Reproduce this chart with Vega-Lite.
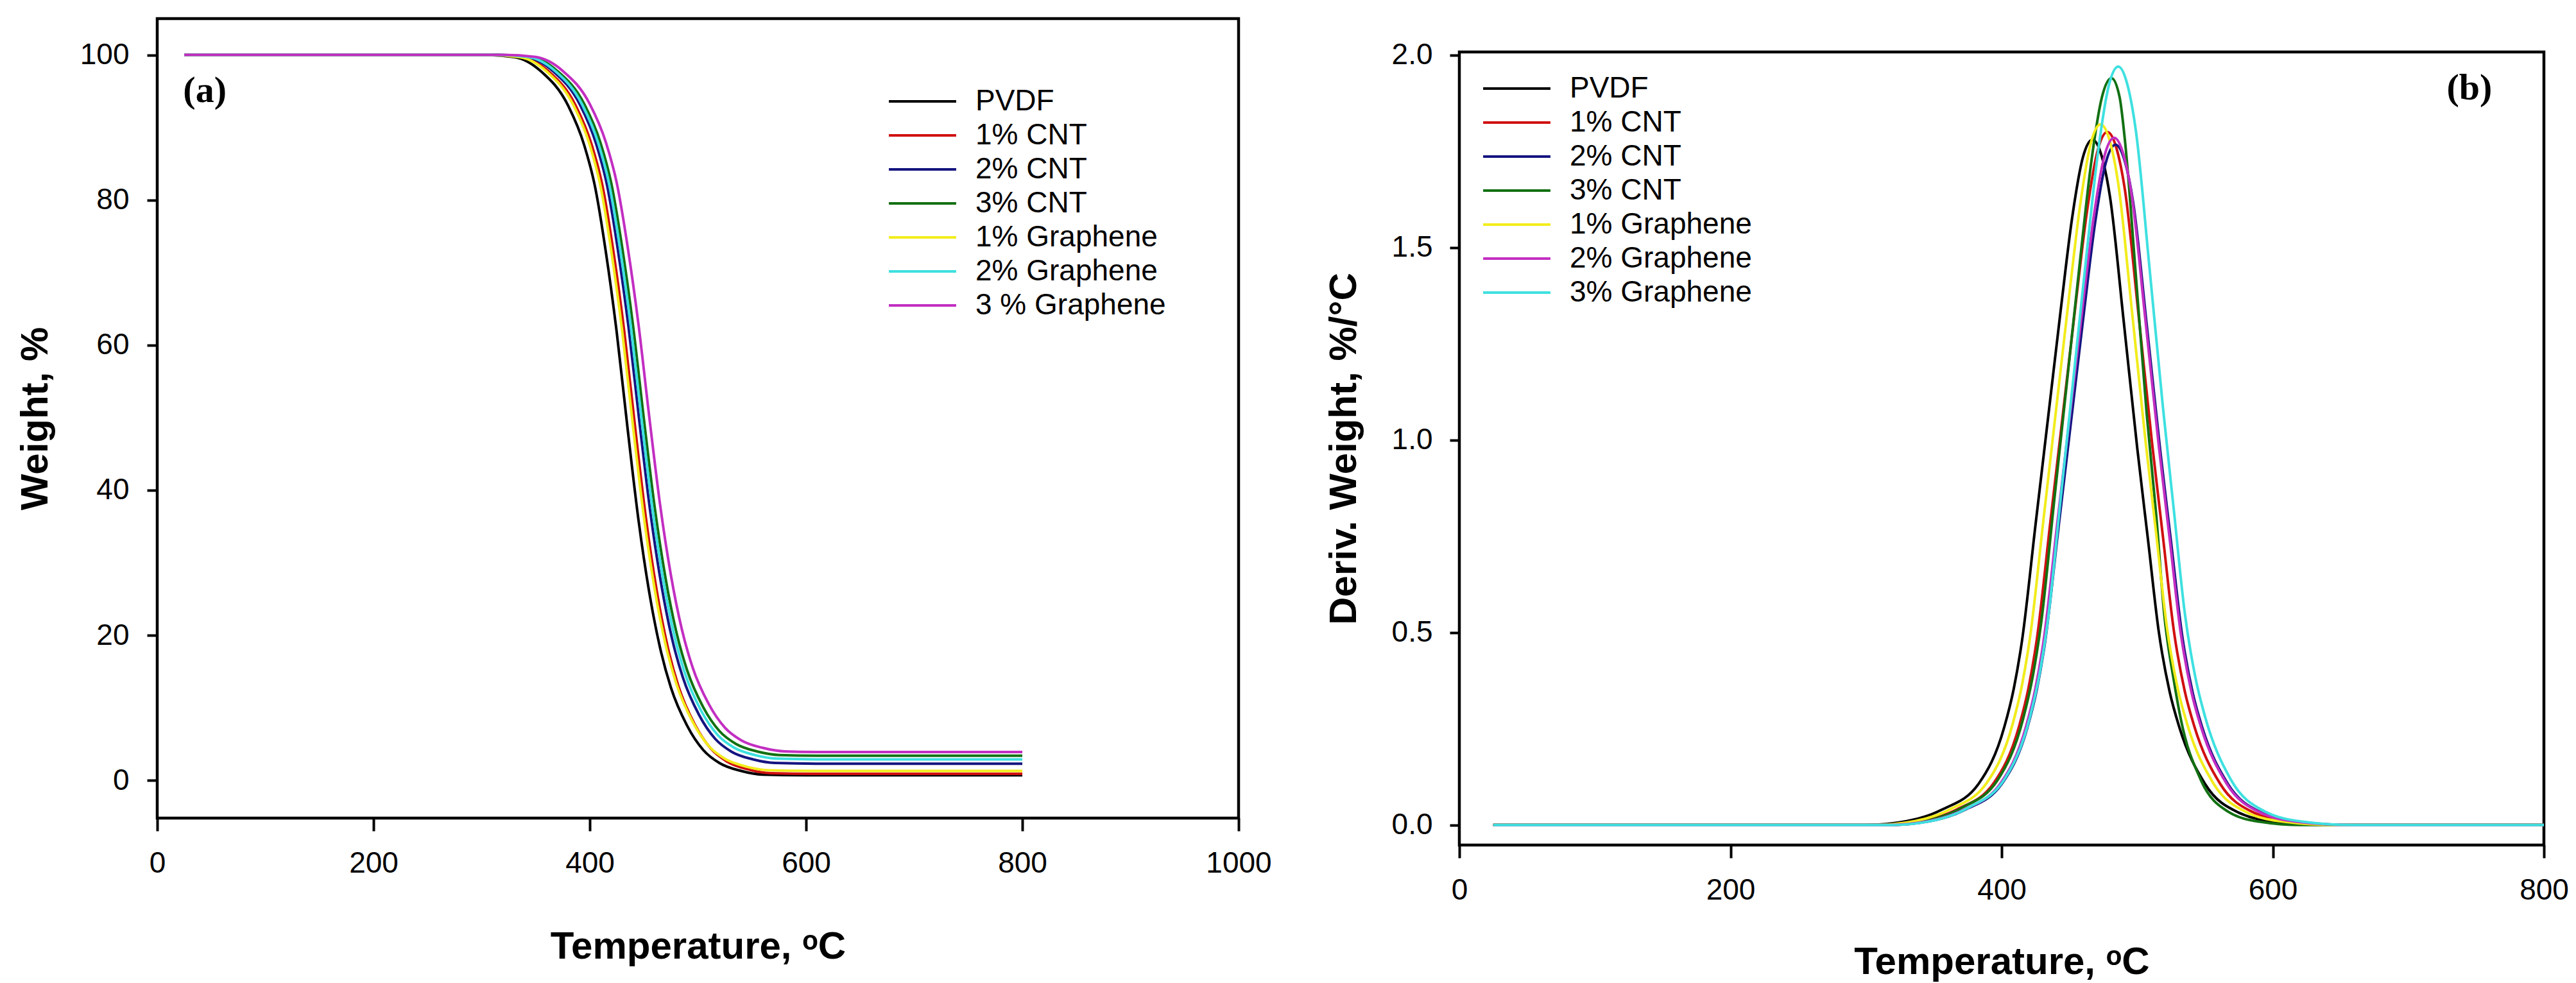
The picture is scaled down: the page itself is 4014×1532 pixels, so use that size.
{
"$schema":"https://vega.github.io/schema/vega-lite/v6.json",
"background":"white",
"autosize":{"type":"pad"},
"padding":{"left":23,"top":26,"right":10,"bottom":10},
"spacing":77,
"datasets":{
"tga":[
{"s":"PVDF","t":25,"w":100},{"s":"PVDF","t":300,"w":100},{"s":"PVDF","t":330,"w":99.7},{"s":"PVDF","t":355,"w":97.72},{"s":"PVDF","t":380,"w":93.0},{"s":"PVDF","t":395,"w":87.49},{"s":"PVDF","t":405,"w":81.73},{"s":"PVDF","t":415,"w":72.69},{"s":"PVDF","t":425,"w":61.67},{"s":"PVDF","t":435,"w":48.46},{"s":"PVDF","t":445,"w":35.95},{"s":"PVDF","t":455,"w":25.92},{"s":"PVDF","t":465,"w":18.28},{"s":"PVDF","t":475,"w":12.81},{"s":"PVDF","t":490,"w":7.55},{"s":"PVDF","t":505,"w":4.18},{"s":"PVDF","t":520,"w":2.39},{"s":"PVDF","t":540,"w":1.3},{"s":"PVDF","t":560,"w":0.8},{"s":"PVDF","t":600,"w":0.7},{"s":"PVDF","t":800,"w":0.7},
{"s":"1% CNT","t":25,"w":100},{"s":"1% CNT","t":307,"w":100},{"s":"1% CNT","t":337,"w":99.7},{"s":"1% CNT","t":362,"w":97.72},{"s":"1% CNT","t":387,"w":93.01},{"s":"1% CNT","t":402,"w":87.51},{"s":"1% CNT","t":412,"w":81.77},{"s":"1% CNT","t":422,"w":72.75},{"s":"1% CNT","t":432,"w":61.75},{"s":"1% CNT","t":442,"w":48.57},{"s":"1% CNT","t":452,"w":36.08},{"s":"1% CNT","t":462,"w":26.07},{"s":"1% CNT","t":472,"w":18.44},{"s":"1% CNT","t":482,"w":12.99},{"s":"1% CNT","t":497,"w":7.74},{"s":"1% CNT","t":512,"w":4.37},{"s":"1% CNT","t":527,"w":2.58},{"s":"1% CNT","t":547,"w":1.49},{"s":"1% CNT","t":567,"w":1.0},{"s":"1% CNT","t":607,"w":0.9},{"s":"1% CNT","t":800,"w":0.9},
{"s":"2% CNT","t":25,"w":100},{"s":"2% CNT","t":311,"w":100},{"s":"2% CNT","t":341,"w":99.71},{"s":"2% CNT","t":366,"w":97.75},{"s":"2% CNT","t":391,"w":93.11},{"s":"2% CNT","t":406,"w":87.69},{"s":"2% CNT","t":416,"w":82.02},{"s":"2% CNT","t":426,"w":73.13},{"s":"2% CNT","t":436,"w":62.29},{"s":"2% CNT","t":446,"w":49.29},{"s":"2% CNT","t":456,"w":36.98},{"s":"2% CNT","t":466,"w":27.12},{"s":"2% CNT","t":476,"w":19.59},{"s":"2% CNT","t":486,"w":14.22},{"s":"2% CNT","t":501,"w":9.04},{"s":"2% CNT","t":516,"w":5.72},{"s":"2% CNT","t":531,"w":3.96},{"s":"2% CNT","t":551,"w":2.89},{"s":"2% CNT","t":571,"w":2.4},{"s":"2% CNT","t":611,"w":2.3},{"s":"2% CNT","t":800,"w":2.3},
{"s":"3% CNT","t":25,"w":100},{"s":"3% CNT","t":315,"w":100},{"s":"3% CNT","t":345,"w":99.71},{"s":"3% CNT","t":370,"w":97.78},{"s":"3% CNT","t":395,"w":93.19},{"s":"3% CNT","t":410,"w":87.83},{"s":"3% CNT","t":420,"w":82.23},{"s":"3% CNT","t":430,"w":73.44},{"s":"3% CNT","t":440,"w":62.71},{"s":"3% CNT","t":450,"w":49.86},{"s":"3% CNT","t":460,"w":37.69},{"s":"3% CNT","t":470,"w":27.94},{"s":"3% CNT","t":480,"w":20.5},{"s":"3% CNT","t":490,"w":15.19},{"s":"3% CNT","t":505,"w":10.07},{"s":"3% CNT","t":520,"w":6.78},{"s":"3% CNT","t":535,"w":5.04},{"s":"3% CNT","t":555,"w":3.98},{"s":"3% CNT","t":575,"w":3.5},{"s":"3% CNT","t":615,"w":3.4},{"s":"3% CNT","t":800,"w":3.4},
{"s":"1% Graphene","t":25,"w":100},{"s":"1% Graphene","t":305,"w":100},{"s":"1% Graphene","t":335,"w":99.7},{"s":"1% Graphene","t":360,"w":97.73},{"s":"1% Graphene","t":385,"w":93.04},{"s":"1% Graphene","t":400,"w":87.56},{"s":"1% Graphene","t":410,"w":81.84},{"s":"1% Graphene","t":420,"w":72.86},{"s":"1% Graphene","t":430,"w":61.9},{"s":"1% Graphene","t":440,"w":48.77},{"s":"1% Graphene","t":450,"w":36.34},{"s":"1% Graphene","t":460,"w":26.37},{"s":"1% Graphene","t":470,"w":18.77},{"s":"1% Graphene","t":480,"w":13.34},{"s":"1% Graphene","t":495,"w":8.11},{"s":"1% Graphene","t":510,"w":4.75},{"s":"1% Graphene","t":525,"w":2.98},{"s":"1% Graphene","t":545,"w":1.89},{"s":"1% Graphene","t":565,"w":1.4},{"s":"1% Graphene","t":605,"w":1.3},{"s":"1% Graphene","t":800,"w":1.3},
{"s":"2% Graphene","t":25,"w":100},{"s":"2% Graphene","t":313,"w":100},{"s":"2% Graphene","t":343,"w":99.71},{"s":"2% Graphene","t":368,"w":97.77},{"s":"2% Graphene","t":393,"w":93.15},{"s":"2% Graphene","t":408,"w":87.77},{"s":"2% Graphene","t":418,"w":82.13},{"s":"2% Graphene","t":428,"w":73.3},{"s":"2% Graphene","t":438,"w":62.52},{"s":"2% Graphene","t":448,"w":49.61},{"s":"2% Graphene","t":458,"w":37.37},{"s":"2% Graphene","t":468,"w":27.56},{"s":"2% Graphene","t":478,"w":20.09},{"s":"2% Graphene","t":488,"w":14.75},{"s":"2% Graphene","t":503,"w":9.6},{"s":"2% Graphene","t":518,"w":6.3},{"s":"2% Graphene","t":533,"w":4.55},{"s":"2% Graphene","t":553,"w":3.48},{"s":"2% Graphene","t":573,"w":3.0},{"s":"2% Graphene","t":613,"w":2.9},{"s":"2% Graphene","t":800,"w":2.9},
{"s":"3 % Graphene","t":25,"w":100},{"s":"3 % Graphene","t":320,"w":100},{"s":"3 % Graphene","t":350,"w":99.71},{"s":"3 % Graphene","t":375,"w":97.79},{"s":"3 % Graphene","t":400,"w":93.22},{"s":"3 % Graphene","t":415,"w":87.89},{"s":"3 % Graphene","t":425,"w":82.32},{"s":"3 % Graphene","t":435,"w":73.57},{"s":"3 % Graphene","t":445,"w":62.91},{"s":"3 % Graphene","t":455,"w":50.12},{"s":"3 % Graphene","t":465,"w":38.02},{"s":"3 % Graphene","t":475,"w":28.31},{"s":"3 % Graphene","t":485,"w":20.91},{"s":"3 % Graphene","t":495,"w":15.62},{"s":"3 % Graphene","t":510,"w":10.53},{"s":"3 % Graphene","t":525,"w":7.26},{"s":"3 % Graphene","t":540,"w":5.53},{"s":"3 % Graphene","t":560,"w":4.48},{"s":"3 % Graphene","t":580,"w":4.0},{"s":"3 % Graphene","t":620,"w":3.9},{"s":"3 % Graphene","t":800,"w":3.9}
],
"dtg":[
{"s":"PVDF","t":25,"d":0},{"s":"PVDF","t":300,"d":0},{"s":"PVDF","t":330,"d":0.01},{"s":"PVDF","t":356,"d":0.04},{"s":"PVDF","t":383,"d":0.107},{"s":"PVDF","t":402,"d":0.255},{"s":"PVDF","t":409,"d":0.355},{"s":"PVDF","t":415,"d":0.478},{"s":"PVDF","t":425,"d":0.78},{"s":"PVDF","t":435,"d":1.08},{"s":"PVDF","t":444,"d":1.35},{"s":"PVDF","t":452,"d":1.577},{"s":"PVDF","t":460,"d":1.735},{"s":"PVDF","t":467,"d":1.78},{"s":"PVDF","t":474,"d":1.735},{"s":"PVDF","t":480,"d":1.63},{"s":"PVDF","t":490,"d":1.31},{"s":"PVDF","t":500,"d":0.98},{"s":"PVDF","t":508,"d":0.74},{"s":"PVDF","t":516,"d":0.5},{"s":"PVDF","t":524,"d":0.345},{"s":"PVDF","t":531,"d":0.255},{"s":"PVDF","t":550,"d":0.107},{"s":"PVDF","t":575,"d":0.032},{"s":"PVDF","t":603,"d":0.008},{"s":"PVDF","t":640,"d":0},{"s":"PVDF","t":800,"d":0},
{"s":"1% CNT","t":25,"d":0},{"s":"1% CNT","t":311,"d":0},{"s":"1% CNT","t":341,"d":0.0101},{"s":"1% CNT","t":367,"d":0.0404},{"s":"1% CNT","t":394,"d":0.1082},{"s":"1% CNT","t":413,"d":0.2579},{"s":"1% CNT","t":420,"d":0.359},{"s":"1% CNT","t":426,"d":0.4834},{"s":"1% CNT","t":436,"d":0.7887},{"s":"1% CNT","t":446,"d":1.0921},{"s":"1% CNT","t":455,"d":1.3651},{"s":"1% CNT","t":463,"d":1.5947},{"s":"1% CNT","t":471,"d":1.7544},{"s":"1% CNT","t":478,"d":1.8},{"s":"1% CNT","t":485,"d":1.7544},{"s":"1% CNT","t":491,"d":1.6483},{"s":"1% CNT","t":501,"d":1.3247},{"s":"1% CNT","t":511,"d":0.991},{"s":"1% CNT","t":519,"d":0.7483},{"s":"1% CNT","t":527,"d":0.5056},{"s":"1% CNT","t":535,"d":0.3489},{"s":"1% CNT","t":542,"d":0.2579},{"s":"1% CNT","t":561,"d":0.1082},{"s":"1% CNT","t":586,"d":0.0324},{"s":"1% CNT","t":614,"d":0.0081},{"s":"1% CNT","t":651,"d":0},{"s":"1% CNT","t":800,"d":0},
{"s":"2% CNT","t":25,"d":0},{"s":"2% CNT","t":317,"d":0},{"s":"2% CNT","t":347,"d":0.0099},{"s":"2% CNT","t":373,"d":0.0397},{"s":"2% CNT","t":400,"d":0.1062},{"s":"2% CNT","t":419,"d":0.2531},{"s":"2% CNT","t":426,"d":0.3524},{"s":"2% CNT","t":432,"d":0.4745},{"s":"2% CNT","t":442,"d":0.7743},{"s":"2% CNT","t":452,"d":1.0721},{"s":"2% CNT","t":461,"d":1.3401},{"s":"2% CNT","t":469,"d":1.5655},{"s":"2% CNT","t":477,"d":1.7223},{"s":"2% CNT","t":484,"d":1.767},{"s":"2% CNT","t":491,"d":1.7223},{"s":"2% CNT","t":497,"d":1.6181},{"s":"2% CNT","t":507,"d":1.3005},{"s":"2% CNT","t":517,"d":0.9728},{"s":"2% CNT","t":525,"d":0.7346},{"s":"2% CNT","t":533,"d":0.4964},{"s":"2% CNT","t":541,"d":0.3425},{"s":"2% CNT","t":548,"d":0.2531},{"s":"2% CNT","t":567,"d":0.1062},{"s":"2% CNT","t":592,"d":0.0318},{"s":"2% CNT","t":620,"d":0.0079},{"s":"2% CNT","t":657,"d":0},{"s":"2% CNT","t":800,"d":0},
{"s":"3% CNT","t":25,"d":0},{"s":"3% CNT","t":314,"d":0},{"s":"3% CNT","t":344,"d":0.0109},{"s":"3% CNT","t":370,"d":0.0436},{"s":"3% CNT","t":397,"d":0.1166},{"s":"3% CNT","t":416,"d":0.2779},{"s":"3% CNT","t":423,"d":0.3869},{"s":"3% CNT","t":429,"d":0.521},{"s":"3% CNT","t":439,"d":0.8501},{"s":"3% CNT","t":449,"d":1.1771},{"s":"3% CNT","t":458,"d":1.4714},{"s":"3% CNT","t":466,"d":1.7188},{"s":"3% CNT","t":474,"d":1.891},{"s":"3% CNT","t":481,"d":1.94},{"s":"3% CNT","t":487,"d":1.891},{"s":"3% CNT","t":491,"d":1.7765},{"s":"3% CNT","t":499,"d":1.4278},{"s":"3% CNT","t":507,"d":1.0681},{"s":"3% CNT","t":514,"d":0.8065},{"s":"3% CNT","t":520,"d":0.545},{"s":"3% CNT","t":527,"d":0.376},{"s":"3% CNT","t":532,"d":0.2779},{"s":"3% CNT","t":547,"d":0.1166},{"s":"3% CNT","t":567,"d":0.0349},{"s":"3% CNT","t":590,"d":0.0087},{"s":"3% CNT","t":620,"d":0},{"s":"3% CNT","t":800,"d":0},
{"s":"1% Graphene","t":25,"d":0},{"s":"1% Graphene","t":306,"d":0},{"s":"1% Graphene","t":336,"d":0.0102},{"s":"1% Graphene","t":362,"d":0.0409},{"s":"1% Graphene","t":389,"d":0.1094},{"s":"1% Graphene","t":408,"d":0.2607},{"s":"1% Graphene","t":415,"d":0.363},{"s":"1% Graphene","t":421,"d":0.4888},{"s":"1% Graphene","t":431,"d":0.7976},{"s":"1% Graphene","t":441,"d":1.1043},{"s":"1% Graphene","t":450,"d":1.3804},{"s":"1% Graphene","t":458,"d":1.6125},{"s":"1% Graphene","t":466,"d":1.774},{"s":"1% Graphene","t":473,"d":1.82},{"s":"1% Graphene","t":480,"d":1.774},{"s":"1% Graphene","t":486,"d":1.6667},{"s":"1% Graphene","t":496,"d":1.3395},{"s":"1% Graphene","t":506,"d":1.002},{"s":"1% Graphene","t":514,"d":0.7567},{"s":"1% Graphene","t":522,"d":0.5113},{"s":"1% Graphene","t":530,"d":0.3528},{"s":"1% Graphene","t":537,"d":0.2607},{"s":"1% Graphene","t":556,"d":0.1094},{"s":"1% Graphene","t":581,"d":0.0327},{"s":"1% Graphene","t":609,"d":0.0082},{"s":"1% Graphene","t":646,"d":0},{"s":"1% Graphene","t":800,"d":0},
{"s":"2% Graphene","t":25,"d":0},{"s":"2% Graphene","t":316,"d":0},{"s":"2% Graphene","t":346,"d":0.01},{"s":"2% Graphene","t":372,"d":0.0401},{"s":"2% Graphene","t":399,"d":0.1073},{"s":"2% Graphene","t":418,"d":0.2557},{"s":"2% Graphene","t":425,"d":0.356},{"s":"2% Graphene","t":431,"d":0.4793},{"s":"2% Graphene","t":441,"d":0.7822},{"s":"2% Graphene","t":451,"d":1.083},{"s":"2% Graphene","t":460,"d":1.3538},{"s":"2% Graphene","t":468,"d":1.5814},{"s":"2% Graphene","t":476,"d":1.7399},{"s":"2% Graphene","t":483,"d":1.785},{"s":"2% Graphene","t":490,"d":1.7399},{"s":"2% Graphene","t":496,"d":1.6346},{"s":"2% Graphene","t":506,"d":1.3137},{"s":"2% Graphene","t":516,"d":0.9827},{"s":"2% Graphene","t":524,"d":0.7421},{"s":"2% Graphene","t":532,"d":0.5014},{"s":"2% Graphene","t":540,"d":0.346},{"s":"2% Graphene","t":547,"d":0.2557},{"s":"2% Graphene","t":566,"d":0.1073},{"s":"2% Graphene","t":591,"d":0.0321},{"s":"2% Graphene","t":619,"d":0.008},{"s":"2% Graphene","t":656,"d":0},{"s":"2% Graphene","t":800,"d":0},
{"s":"3% Graphene","t":25,"d":0},{"s":"3% Graphene","t":319,"d":0},{"s":"3% Graphene","t":349,"d":0.0111},{"s":"3% Graphene","t":375,"d":0.0443},{"s":"3% Graphene","t":402,"d":0.1184},{"s":"3% Graphene","t":421,"d":0.2822},{"s":"3% Graphene","t":428,"d":0.3929},{"s":"3% Graphene","t":434,"d":0.529},{"s":"3% Graphene","t":444,"d":0.8632},{"s":"3% Graphene","t":454,"d":1.1952},{"s":"3% Graphene","t":463,"d":1.494},{"s":"3% Graphene","t":471,"d":1.7453},{"s":"3% Graphene","t":479,"d":1.9201},{"s":"3% Graphene","t":486,"d":1.97},{"s":"3% Graphene","t":493,"d":1.9201},{"s":"3% Graphene","t":499,"d":1.8039},{"s":"3% Graphene","t":509,"d":1.4498},{"s":"3% Graphene","t":519,"d":1.0846},{"s":"3% Graphene","t":527,"d":0.819},{"s":"3% Graphene","t":535,"d":0.5534},{"s":"3% Graphene","t":543,"d":0.3818},{"s":"3% Graphene","t":550,"d":0.2822},{"s":"3% Graphene","t":569,"d":0.1184},{"s":"3% Graphene","t":594,"d":0.0354},{"s":"3% Graphene","t":622,"d":0.0089},{"s":"3% Graphene","t":659,"d":0},{"s":"3% Graphene","t":800,"d":0}
]
},
"hconcat":[
{
"width":1685,"height":1246,
"layer":[
{"data":{"name":"tga"},
"mark":{"type":"line","strokeWidth":4,"interpolate":"monotone"},
"encoding":{
"x":{"field":"t","type":"quantitative","scale":{"domain":[0,1000],"nice":false,"zero":false},"axis":{"title":"Temperature, ᵒC","values":[0,200,400,600,800,1000],"format":"d","titlePadding":78}},
"y":{"field":"w","type":"quantitative","scale":{"domain":[-5.2,105],"nice":false,"zero":false},"axis":{"title":"Weight, %","values":[0,20,40,60,80,100],"format":"d"}},
"color":{"field":"s","type":"nominal","sort":["PVDF","1% CNT","2% CNT","3% CNT","1% Graphene","2% Graphene","3 % Graphene"],
"scale":{"domain":["PVDF","1% CNT","2% CNT","3% CNT","1% Graphene","2% Graphene","3 % Graphene"],"range":["#000000","#d01010","#141480","#127012","#f2ec1c","#3ee0e0","#c22ec2"]},
"legend":{"orient":"none","legendX":1138,"legendY":106,"title":null,"symbolType":"stroke","symbolSize":11000,"symbolStrokeWidth":4,"clipHeight":46,"labelFont":"Liberation Sans","labelFontSize":46,"labelColor":"#000000","rowPadding":7,"labelOffset":28,"padding":0,"labelLimit":0}}
}},
{"data":{"values":[{}]},
"mark":{"type":"text","font":"Liberation Serif","fontWeight":"bold","fontSize":58,"align":"center","baseline":"middle","color":"#000000"},
"encoding":{"x":{"datum":44,"type":"quantitative"},"y":{"datum":95,"type":"quantitative"},"text":{"value":"(a)"}}}
]
},
{
"spacing":0,
"vconcat":[
{"width":1690,"height":31,"view":{"stroke":null},"data":{"values":[]},"mark":"point"},
{
"width":1690,"height":1236,
"layer":[
{"data":{"name":"dtg"},
"mark":{"type":"line","strokeWidth":4,"interpolate":"monotone"},
"encoding":{
"x":{"field":"t","type":"quantitative","scale":{"domain":[0,800],"nice":false,"zero":false},"axis":{"title":"Temperature, ᵒC","values":[0,200,400,600,800],"format":"d","titlePadding":60}},
"y":{"field":"d","type":"quantitative","scale":{"domain":[-0.052,2.008],"nice":false,"zero":false},"axis":{"title":"Deriv. Weight, %/°C","values":[0,0.5,1,1.5,2],"format":".1f","tickSize":15,"labelPadding":27,"titlePadding":43}},
"color":{"field":"s","type":"nominal","sort":["PVDF","1% CNT","2% CNT","3% CNT","1% Graphene","2% Graphene","3% Graphene"],
"scale":{"domain":["PVDF","1% CNT","2% CNT","3% CNT","1% Graphene","2% Graphene","3% Graphene"],"range":["#000000","#d01010","#141480","#127012","#f2ec1c","#c22ec2","#3ee0e0"]},
"legend":{"orient":"none","legendX":35,"legendY":86,"title":null,"symbolType":"stroke","symbolSize":11000,"symbolStrokeWidth":4,"clipHeight":46,"labelFont":"Liberation Sans","labelFontSize":46,"labelColor":"#000000","rowPadding":7,"labelOffset":28,"padding":0,"labelLimit":0}}
}},
{"data":{"values":[{}]},
"mark":{"type":"text","font":"Liberation Serif","fontWeight":"bold","fontSize":58,"align":"center","baseline":"middle","color":"#000000"},
"encoding":{"x":{"datum":745,"type":"quantitative"},"y":{"datum":1.913,"type":"quantitative"},"text":{"value":"(b)"}}}
]
}
]
}
],
"resolve":{"scale":{"color":"independent","x":"independent","y":"independent"},"legend":{"color":"independent"}},
"config":{
"view":{"stroke":"#000000","strokeWidth":4.5},
"font":"Liberation Sans",
"axis":{"domain":false,"grid":false,"ticks":true,"tickColor":"#000000","tickWidth":4,"labelFont":"Liberation Sans","labelFontSize":46,"labelColor":"#000000","titleFont":"Liberation Sans","titleFontSize":60,"titleFontWeight":"bold","titleColor":"#000000","labelFlush":false,"labelOverlap":false,"labelBound":false},
"axisX":{"tickSize":20,"labelPadding":28},
"axisY":{"tickSize":16,"labelPadding":28,"titlePadding":38}
}
}
